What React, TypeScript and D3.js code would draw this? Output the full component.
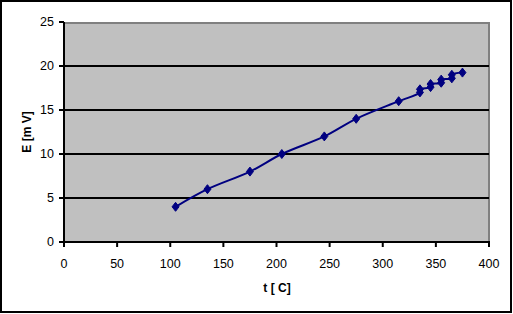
import React from "react";
import * as d3 from "d3";

const tValues = [105, 135, 175, 205, 245, 275, 315, 335, 335, 345, 345, 355, 355, 365, 365, 375];
const eValues = [4.0, 6.0, 8.0, 10.0, 12.0, 14.0, 16.0, 17.0, 17.35, 17.6, 17.95, 18.1, 18.45, 18.6, 19.0, 19.25];
const xTicks = [0, 50, 100, 150, 200, 250, 300, 350, 400];
const yTicks = [0, 5, 10, 15, 20, 25];
const xTitle = "t [ C]";
const yTitle = "E [m V]";

export default function App() {
  const W = 513, H = 314;
  const left = 64, right = 489, top = 22, bottom = 242;
  const x = d3.scaleLinear().domain([0, 400]).range([left, right]);
  const y = d3.scaleLinear().domain([0, 25]).range([bottom, top]);
  const pts: [number, number][] = tValues.map((t, i) => [t, eValues[i]]);
  const line = d3
    .line<[number, number]>()
    .x((d) => x(d[0]))
    .y((d) => y(d[1]))
    .curve(d3.curveCatmullRom.alpha(0.5));
  const font = "'Liberation Sans', Arial, sans-serif";
  return (
    <svg
      width={W}
      height={H}
      style={{ position: "absolute", left: 0, top: 0, display: "block" }}
      fontFamily={font}
    >
      <rect x={0} y={0} width={W} height={H} fill="#fff" />
      <rect x={1} y={1} width={510} height={311} fill="none" stroke="#000" strokeWidth={2} />
      <rect x={left} y={top} width={right - left} height={bottom - top} fill="#c0c0c0" />
      {/* plot border top/right gray */}
      <line x1={left} x2={right} y1={top + 1} y2={top + 1} stroke="#808080" strokeWidth={2} />
      <line x1={right} x2={right} y1={top} y2={bottom} stroke="#808080" strokeWidth={2} />
      {yTicks.slice(1, -1).map((v) => (
        <line key={"g" + v} x1={left} x2={right} y1={y(v)} y2={y(v)} stroke="#000" strokeWidth={2} />
      ))}
      {/* axes */}
      <line x1={left} x2={left} y1={top} y2={bottom} stroke="#000" strokeWidth={2} />
      <line x1={left - 5} x2={right + 1} y1={bottom} y2={bottom} stroke="#000" strokeWidth={2} />
      {yTicks.map((v) => (
        <g key={"y" + v}>
          <line x1={left - 5} x2={left} y1={y(v)} y2={y(v)} stroke="#000" strokeWidth={2} />
          <text x={54} y={y(v)} dy="0.35em" textAnchor="end" fontSize={12.5} fill="#000">
            {v}
          </text>
        </g>
      ))}
      {xTicks.map((v) => (
        <g key={"x" + v}>
          <line x1={x(v)} x2={x(v)} y1={bottom} y2={bottom + 5} stroke="#000" strokeWidth={2} />
          <text x={x(v)} y={268} textAnchor="middle" fontSize={12.5} fill="#000">
            {v}
          </text>
        </g>
      ))}
      <path d={line(pts) || ""} fill="none" stroke="#000080" strokeWidth={2} />
      {pts.map((d, i) => {
        const cx = x(d[0]);
        const cy = y(d[1]);
        return (
          <path
            key={"m" + i}
            d={`M${cx},${cy - 4.5}L${cx + 3.5},${cy}L${cx},${cy + 4.5}L${cx - 3.5},${cy}Z`}
            fill="#000080"
            stroke="#000080"
            strokeWidth={1}
          />
        );
      })}
      <text x={277} y={292} textAnchor="middle" fontSize={12} fontWeight="bold" fill="#000">
        {xTitle}
      </text>
      <text
        transform={`translate(31,132) rotate(-90)`}
        textAnchor="middle"
        fontSize={12}
        fontWeight="bold"
        fill="#000"
      >
        {yTitle}
      </text>
    </svg>
  );
}
